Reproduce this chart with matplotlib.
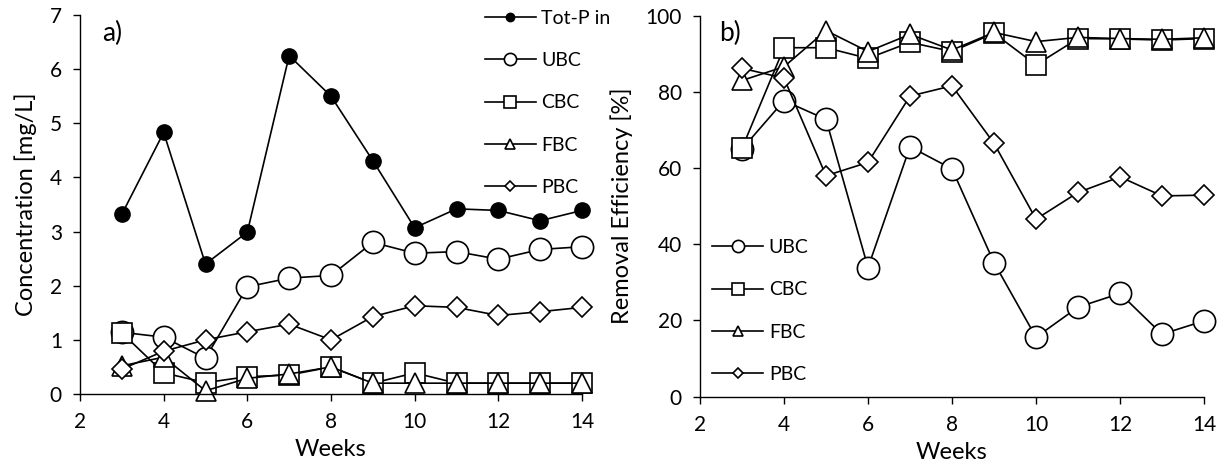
import numpy as np
import matplotlib.pyplot as plt

plt.rcParams['font.family'] = ['Lato', 'DejaVu Sans']

weeks = [3, 4, 5, 6, 7, 8, 9, 10, 11, 12, 13, 14]

# a) concentration [mg/L]
totp_in = [3.32, 4.83, 2.40, 2.99, 6.25, 5.50, 4.31, 3.07, 3.42, 3.39, 3.20, 3.39]
ubc_c = [1.14, 1.05, 0.66, 1.98, 2.14, 2.19, 2.80, 2.60, 2.63, 2.49, 2.67, 2.72]
cbc_c = [1.13, 0.39, 0.21, 0.32, 0.35, 0.50, 0.20, 0.39, 0.20, 0.20, 0.20, 0.20]
fbc_c = [0.52, 0.68, 0.06, 0.29, 0.37, 0.50, 0.20, 0.20, 0.20, 0.20, 0.20, 0.20]
pbc_c = [0.46, 0.79, 1.00, 1.15, 1.29, 1.00, 1.43, 1.63, 1.60, 1.45, 1.52, 1.60]

# b) removal efficiency [%]
ubc_r = [65.0, 77.7, 72.8, 33.9, 65.6, 59.8, 35.2, 15.6, 23.5, 27.1, 16.4, 19.9]
cbc_r = [65.2, 91.6, 91.6, 88.8, 93.0, 90.6, 95.4, 87.1, 94.0, 93.9, 93.6, 94.0]
fbc_r = [83.0, 86.6, 96.1, 90.6, 95.1, 91.0, 95.6, 93.2, 94.3, 94.0, 93.8, 94.2]
pbc_r = [86.2, 83.6, 58.0, 61.5, 78.9, 81.6, 66.5, 46.6, 53.6, 57.7, 52.7, 52.9]

lw = 1.2
open_style = dict(color='black', lw=lw, mfc='white', mec='black', mew=1.2)

fig = plt.figure(figsize=(12.25, 4.69), dpi=100)
W, H = 1225, 469
ax1 = fig.add_axes([80 / W, 1 - 394 / H, (582 - 80) / W, (394 - 15) / H])
ax2 = fig.add_axes([700 / W, 1 - 396.7 / H, (1204 - 700) / W, (396.7 - 15.7) / H])

# panel a
ax1.plot(weeks, totp_in, color='black', lw=lw, marker='o', ms=11, mfc='black', mec='black', label='Tot-P in')
ax1.plot(weeks, ubc_c, marker='o', ms=16, label='UBC', **open_style)
ax1.plot(weeks, cbc_c, marker='s', ms=15, label='CBC', **open_style)
ax1.plot(weeks, fbc_c, marker='^', ms=14, label='FBC', **open_style)
ax1.plot(weeks, pbc_c, marker='D', ms=10, label='PBC', **open_style)
ax1.set_xlim(2, 14)
ax1.set_ylim(0, 7)
ax1.set_xticks(range(2, 15, 2))
ax1.set_yticks(range(0, 8))
ax1.set_xlabel('Weeks', fontsize=17, labelpad=5)
ax1.set_ylabel('Concentration [mg/L]', fontsize=17, labelpad=9)
ax1.text(0.045, 0.985, 'a)', transform=ax1.transAxes, fontsize=19, va='top')
ax1.legend(loc='upper right', bbox_to_anchor=(1.092, 1.06), frameon=False, fontsize=14,
           markerscale=0.55, labelspacing=1.3, handlelength=2.6, handletextpad=0.3)

# panel b
ax2.plot(weeks, ubc_r, marker='o', ms=16, label='UBC', **open_style)
ax2.plot(weeks, cbc_r, marker='s', ms=15, label='CBC', **open_style)
ax2.plot(weeks, fbc_r, marker='^', ms=14, label='FBC', **open_style)
ax2.plot(weeks, pbc_r, marker='D', ms=10, label='PBC', **open_style)
ax2.set_xlim(2, 14)
ax2.set_ylim(0, 100)
ax2.set_xticks(range(2, 15, 2))
ax2.set_yticks(range(0, 101, 20))
ax2.set_xlabel('Weeks', fontsize=17, labelpad=5)
ax2.set_ylabel('Removal Efficiency [%]', fontsize=17, labelpad=9)
ax2.text(0.037, 0.985, 'b)', transform=ax2.transAxes, fontsize=19, va='top')
ax2.legend(loc='lower left', bbox_to_anchor=(-0.01, -0.01), frameon=False, fontsize=14,
           markerscale=0.55, labelspacing=1.3, handlelength=2.6, handletextpad=0.3)

for ax in (ax1, ax2):
    for s in ('top', 'right'):
        ax.spines[s].set_visible(False)
    for s in ('left', 'bottom'):
        ax.spines[s].set_linewidth(1.0)
    ax.tick_params(direction='out', length=5, width=1.0, labelsize=15, pad=8)
    for m in ax.get_lines():
        m.set_clip_on(False)

fig.savefig('out.png', dpi=100)
